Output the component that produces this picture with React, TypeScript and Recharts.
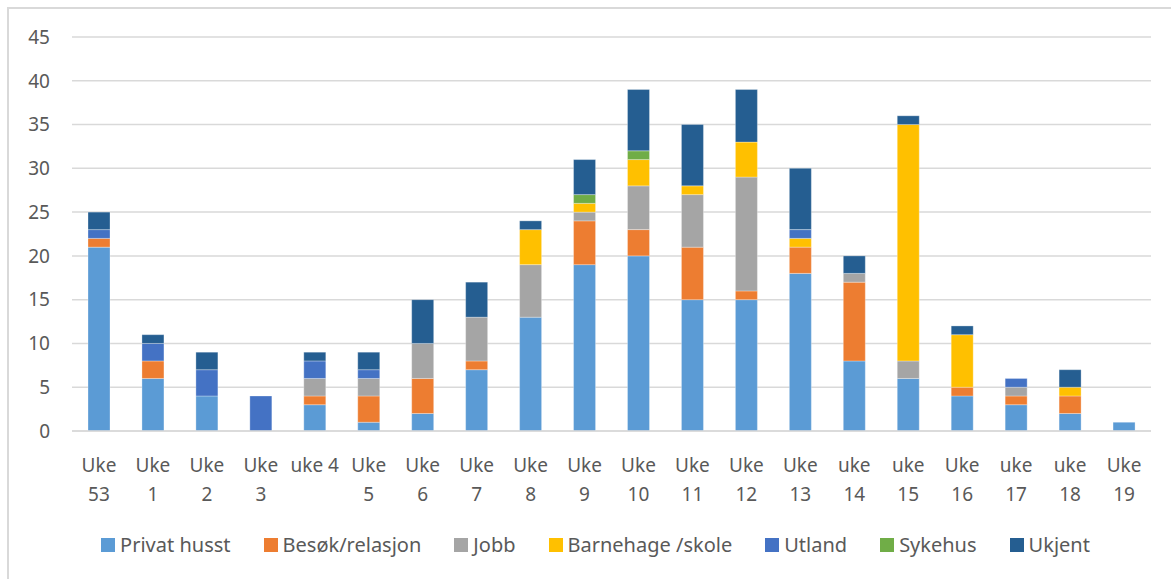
import { BarChart, Bar, XAxis, YAxis, CartesianGrid } from 'recharts';

const weeks = ['Uke 53', 'Uke 1', 'Uke 2', 'Uke 3', 'uke 4', 'Uke 5', 'Uke 6', 'Uke 7', 'Uke 8', 'Uke 9',
    'Uke 10', 'Uke 11', 'Uke 12', 'Uke 13', 'uke 14', 'uke 15', 'Uke 16', 'uke 17', 'uke 18', 'Uke 19'];

const privatHusst = [21, 6, 4, 0, 3, 1, 2, 7, 13, 19, 20, 15, 15, 18, 8, 6, 4, 3, 2, 1];
const besok = [1, 2, 0, 0, 1, 3, 4, 1, 0, 5, 3, 6, 1, 3, 9, 0, 1, 1, 2, 0];
const jobb = [0, 0, 0, 0, 2, 2, 4, 5, 6, 1, 5, 6, 13, 0, 1, 2, 0, 1, 0, 0];
const barnehage = [0, 0, 0, 0, 0, 0, 0, 0, 4, 1, 3, 1, 4, 1, 0, 27, 6, 0, 1, 0];
const utland = [1, 2, 3, 4, 2, 1, 0, 0, 0, 0, 0, 0, 0, 1, 0, 0, 0, 1, 0, 0];
const sykehus = [0, 0, 0, 0, 0, 0, 0, 0, 0, 1, 1, 0, 0, 0, 0, 0, 0, 0, 0, 0];
const ukjent = [2, 1, 2, 0, 1, 2, 5, 4, 1, 4, 7, 7, 6, 7, 2, 1, 1, 0, 2, 0];

const yTicks = [0, 5, 10, 15, 20, 25, 30, 35, 40, 45];

const series = [
    { key: 'privat', name: 'Privat husst', values: privatHusst, color: '#5b9bd5' },
    { key: 'besok', name: 'Besøk/relasjon', values: besok, color: '#ed7d31' },
    { key: 'jobb', name: 'Jobb', values: jobb, color: '#a5a5a5' },
    { key: 'barnehage', name: 'Barnehage /skole', values: barnehage, color: '#ffc000' },
    { key: 'utland', name: 'Utland', values: utland, color: '#4472c4' },
    { key: 'sykehus', name: 'Sykehus', values: sykehus, color: '#70ad47' },
    { key: 'ukjent', name: 'Ukjent', values: ukjent, color: '#255e91' },
];

const data = weeks.map((week, i) => {
    const row: any = { week };
    series.forEach(s => { row[s.key] = s.values[i]; });
    return row;
});

const FONT = '"Noto Sans", "Open Sans", sans-serif';
const TEXT = '#595959';

// Excel wrapped every label onto two lines except "uke 4"
const WeekTick = (props: any) => {
    const { x, y, payload } = props;
    const text: string = payload.value;
    const lines = text === 'uke 4' ? [text] : text.split(' ');
    return (
        <g transform={`translate(${x},${y})`}>
            {lines.map((line, i) => (
                <text key={i} x={0} y={33 + i * 29} textAnchor="middle" fill={TEXT} fontSize={19} fontFamily={FONT}>
                    {line}
                </text>
            ))}
        </g>
    );
};

export default function App() {
    return (
        <div style={{ position: 'absolute', left: 0, top: 0, width: 1171, height: 579, background: '#fff', overflow: 'hidden' }}>
            <div style={{ position: 'absolute', left: 7, top: 7, width: 1180, height: 600, border: '2px solid #d9d9d9', boxSizing: 'border-box' }} />
            <div style={{ position: 'absolute', left: 0, top: 0 }}>
                <BarChart width={1171} height={579} data={data} margin={{ top: 37, right: 20, bottom: 0, left: 0 }} barSize={22}>
                    <CartesianGrid vertical={false} stroke="#d9d9d9" strokeWidth={1.5} />
                    <XAxis dataKey="week" interval={0} tick={<WeekTick />} tickLine={false} axisLine={{ stroke: '#d9d9d9', strokeWidth: 1.5 }} height={148} />
                    <YAxis domain={[0, 45]} ticks={yTicks} tickLine={false} axisLine={false} width={72}
                        tick={{ fill: TEXT, fontSize: 19, fontFamily: FONT, dx: -14 }} />
                    {series.map(s => (
                        <Bar key={s.key} dataKey={s.key} name={s.name} stackId="a" fill={s.color}
                            stroke="#ffffff" strokeOpacity={0.6} strokeWidth={0.5} isAnimationActive={false} />
                    ))}
                </BarChart>
            </div>
            <div style={{ position: 'absolute', left: 0, top: 531, width: 1171, display: 'flex', justifyContent: 'center',
                gap: 33, fontFamily: FONT, fontSize: 20, color: TEXT, paddingLeft: 20, boxSizing: 'border-box' }}>
                {series.map(s => (
                    <div key={s.key} style={{ display: 'flex', alignItems: 'center', gap: 5 }}>
                        <span style={{ width: 14, height: 14, background: s.color, display: 'inline-block' }} />
                        <span>{s.name}</span>
                    </div>
                ))}
            </div>
        </div>
    );
}
